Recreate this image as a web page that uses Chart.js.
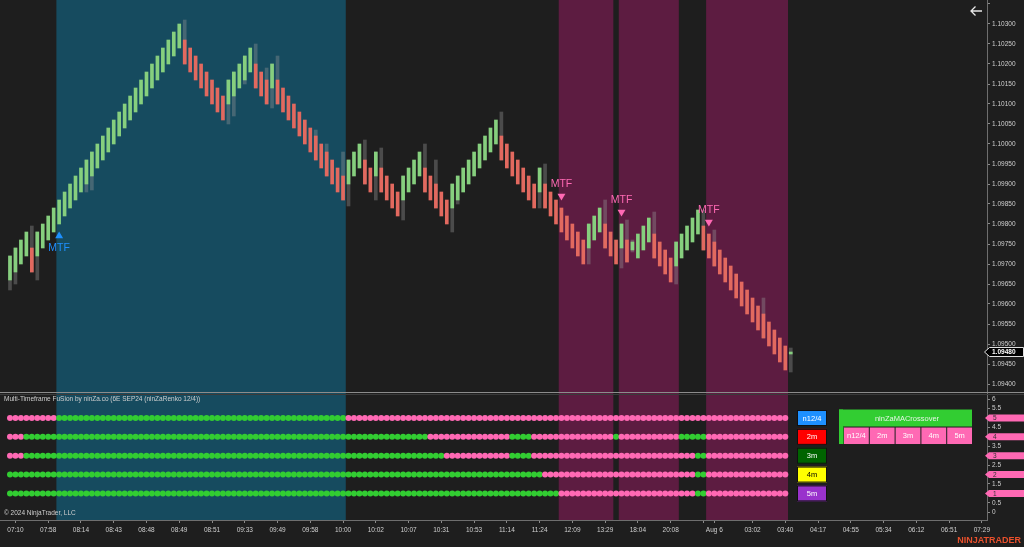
<!DOCTYPE html>
<html>
<head>
<meta charset="utf-8">
<script src="https://cdn.jsdelivr.net/npm/chart.js@4.4.1/dist/chart.umd.min.js"></script>
<style>
  html, body { margin: 0; padding: 0; background: #1e1e1e; overflow: hidden; }
  #wrap { position: relative; width: 1024px; height: 547px; }
</style>
</head>
<body>
<div id="wrap"><canvas id="chart" width="1024" height="547"></canvas></div>
<script>
// ---- data: ninZaRenko 12/4 bars (6E SEP24) ----
var opens = [
  1.0966, 1.0968, 1.0970, 1.0972, 1.0974, 1.0972, 1.0974, 1.0976, 1.0978, 1.0980,
  1.0982, 1.0984, 1.0986, 1.0988, 1.0990, 1.0992, 1.0994, 1.0996, 1.0998, 1.1000,
  1.1002, 1.1004, 1.1006, 1.1008, 1.1010, 1.1012, 1.1014, 1.1016, 1.1018, 1.1020,
  1.1022, 1.1024, 1.1026, 1.1024, 1.1022, 1.1020, 1.1018, 1.1016, 1.1014, 1.1012,
  1.1010, 1.1012, 1.1014, 1.1016, 1.1018, 1.1020, 1.1018, 1.1016, 1.1014, 1.1016,
  1.1014, 1.1012, 1.1010, 1.1008, 1.1006, 1.1004, 1.1002, 1.1000, 1.0998, 1.0996,
  1.0994, 1.0992, 1.0990, 1.0992, 1.0994, 1.0996, 1.0994, 1.0992, 1.0994, 1.0992,
  1.0990, 1.0988, 1.0986, 1.0988, 1.0990, 1.0992, 1.0994, 1.0992, 1.0990, 1.0988,
  1.0986, 1.0984, 1.0986, 1.0988, 1.0990, 1.0992, 1.0994, 1.0996, 1.0998, 1.1000,
  1.1002, 1.1000, 1.0998, 1.0996, 1.0994, 1.0992, 1.0990, 1.0988, 1.0990, 1.0988,
  1.0986, 1.0984, 1.0982, 1.0980, 1.0978, 1.0976, 1.0974, 1.0976, 1.0978, 1.0980,
  1.0978, 1.0976, 1.0974, 1.0976, 1.09735, 1.09715, 1.09735, 1.09755, 1.09775, 1.09755,
  1.09735, 1.09715, 1.09695, 1.09715, 1.09735, 1.09755, 1.09775, 1.09795, 1.09775, 1.09755,
  1.09735, 1.09715, 1.09695, 1.09675, 1.09655, 1.09635, 1.09615, 1.09595, 1.09575, 1.09555,
  1.09535, 1.09515, 1.09495, 1.09475
];
var closes = [
  1.0972, 1.0974, 1.0976, 1.0978, 1.0968, 1.0978, 1.0980, 1.0982, 1.0984, 1.0986,
  1.0988, 1.0990, 1.0992, 1.0994, 1.0996, 1.0998, 1.1000, 1.1002, 1.1004, 1.1006,
  1.1008, 1.1010, 1.1012, 1.1014, 1.1016, 1.1018, 1.1020, 1.1022, 1.1024, 1.1026,
  1.1028, 1.1030, 1.1020, 1.1018, 1.1016, 1.1014, 1.1012, 1.1010, 1.1008, 1.1006,
  1.1016, 1.1018, 1.1020, 1.1022, 1.1024, 1.1014, 1.1012, 1.1010, 1.1020, 1.1010,
  1.1008, 1.1006, 1.1004, 1.1002, 1.1000, 1.0998, 1.0996, 1.0994, 1.0992, 1.0990,
  1.0988, 1.0986, 1.0996, 1.0998, 1.1000, 1.0990, 1.0988, 1.0998, 1.0988, 1.0986,
  1.0984, 1.0982, 1.0992, 1.0994, 1.0996, 1.0998, 1.0988, 1.0986, 1.0984, 1.0982,
  1.0980, 1.0990, 1.0992, 1.0994, 1.0996, 1.0998, 1.1000, 1.1002, 1.1004, 1.1006,
  1.0996, 1.0994, 1.0992, 1.0990, 1.0988, 1.0986, 1.0984, 1.0994, 1.0984, 1.0982,
  1.0980, 1.0978, 1.0976, 1.0974, 1.0972, 1.0970, 1.0980, 1.0982, 1.0984, 1.0974,
  1.0972, 1.0970, 1.0980, 1.09705, 1.09755, 1.09775, 1.09795, 1.09815, 1.09715, 1.09695,
  1.09675, 1.09655, 1.09755, 1.09775, 1.09795, 1.09815, 1.09835, 1.09735, 1.09715, 1.09695,
  1.09675, 1.09655, 1.09635, 1.09615, 1.09595, 1.09575, 1.09555, 1.09535, 1.09515, 1.09495,
  1.09475, 1.09455, 1.09435, 1.09480
];
// bars whose high/low reach past the body
var wickBars  = [0, 1, 4, 5, 14, 15, 32, 40, 41, 43, 45, 47, 48, 49, 56, 58, 61, 62, 65, 67, 68, 72, 76, 78, 81, 82, 90, 97, 98, 106, 109, 112, 113, 114, 118, 122, 127, 129, 138, 143];
var wickLows  = [1.09635, 1.0965, 1.0968, 1.0966, 1.0988, 1.09885, 1.1020, 1.1005, 1.1007, 1.1015, 1.1014, 1.1010, 1.1009, 1.1010, 1.0996, 1.0992, 1.0986, 1.09845, 1.0990, 1.0986, 1.0988, 1.0981, 1.0988, 1.0984, 1.0978, 1.0985, 1.0996, 1.0984, 1.0984, 1.0970, 1.0974, 1.0969, 1.09705, 1.0973, 1.09715, 1.0965, 1.09735, 1.09695, 1.09515, 1.0943];
var wickHighs = [1.0972, 1.0974, 1.09795, 1.0978, 1.0996, 1.0998, 1.1031, 1.1016, 1.1018, 1.1022, 1.1025, 1.1019, 1.1020, 1.1022, 1.10035, 1.1000, 1.0998, 1.0996, 1.1001, 1.0998, 1.0999, 1.0992, 1.1000, 1.0996, 1.0990, 1.0992, 1.1008, 1.0994, 1.0995, 1.0980, 1.0986, 1.0980, 1.0981, 1.0976, 1.0983, 1.09755, 1.09835, 1.09785, 1.09615, 1.0949];
var lastPrice = 1.09480;

// MTF signals
var mtfBars  = [9, 101, 112, 128];
var mtfPrice = [1.0977, 1.0987, 1.0983, 1.09805];
var mtfSide  = [1, -1, -1, -1];

// background zones (bar index bounds)
var zoneFrom  = [8.5, 100.5, 111.5, 127.5];
var zoneTo    = [61.5, 110.5, 122.5, 142.5];
var zoneColor = ['#164b5f', '#5d1c41', '#5d1c41', '#5d1c41'];

// Multi-timeframe rows: [fromBar, toBar, state]
var tfNames  = ['n12/4', '2m', '3m', '4m', '5m'];
var tfColors = ['#1e90ff', '#ff0000', '#006400', '#ffff00', '#9932cc'];
var tfText   = ['#ffffff', '#ffffff', '#ffffff', '#000000', '#ffffff'];
var tfRow    = [5, 4, 3, 2, 1];
var sigN124 = [[0, 8, -1], [9, 61, 1], [62, 142, -1]];
var sig2m = [[0, 2, -1], [3, 76, 1], [77, 91, -1], [92, 95, 1], [96, 110, -1], [111, 111, 1], [112, 122, -1], [123, 127, 1], [128, 142, -1]];
var sig3m = [[0, 2, -1], [3, 79, 1], [80, 91, -1], [92, 95, 1], [96, 125, -1], [126, 127, 1], [128, 142, -1]];
var sig4m = [[0, 97, 1], [98, 125, -1], [126, 127, 1], [128, 142, -1]];
var sig5m = [[0, 100, 1], [101, 125, -1], [126, 127, 1], [128, 142, -1]];
var signals = [sigN124, sig2m, sig3m, sig4m, sig5m];

// axis ticks
var priceTicks = [1.0940, 1.0945, 1.0950, 1.0955, 1.0960, 1.0965, 1.0970, 1.0975, 1.0980, 1.0985,
                  1.0990, 1.0995, 1.1000, 1.1005, 1.1010, 1.1015, 1.1020, 1.1025, 1.1030, 1.1035];
var rowTicks = [0, 0.5, 1, 1.5, 2, 2.5, 3, 3.5, 4, 4.5, 5, 5.5, 6];
var timeTicks = [1, 7, 13, 19, 25, 31, 37, 43, 49, 55, 61, 67, 73, 79, 85, 91, 97, 103, 109, 115, 121,
                 127, 129, 136, 142, 148, 154, 160, 166, 172, 178];
var timeLabels = ['07:10', '07:58', '08:14', '08:43', '08:48', '08:49', '08:51', '09:33', '09:49', '09:58', '10:00',
                  '10:02', '10:07', '10:31', '10:53', '11:14', '11:24', '12:09', '13:29', '18:04', '20:08',
                  '', 'Aug 6', '03:02', '03:40', '04:17', '04:55', '05:34', '06:12', '06:51', '07:29'];

// ---- styling ----
var FONT = '"Liberation Sans", Arial, sans-serif';
var UP = '#86cf7e', DOWN = '#e2695f';
var PINK = '#ff69b4', LIME = '#32cd32';
var AXIS = '#6e6e6e', LABEL = '#cfcfcf';

var bodyData = opens.map(function (o, i) { return { x: i, y: [o, closes[i]] }; });
var bodyColors = opens.map(function (o, i) { return closes[i] >= o ? UP : DOWN; });
var wickData = wickBars.map(function (b, k) { return { x: b, y: [wickLows[k], wickHighs[k]] }; });

var dotSets = signals.map(function (runs, r) {
  var pts = [], cols = [];
  runs.forEach(function (run) {
    for (var i = run[0]; i <= run[1]; i++) {
      pts.push({ x: i, y: tfRow[r] });
      cols.push(run[2] > 0 ? LIME : PINK);
    }
  });
  return {
    type: 'scatter', yAxisID: 'y2', data: pts,
    pointBackgroundColor: cols, pointBorderWidth: 0, pointRadius: 3, order: 2
  };
});

function axisFont(size, bold) { return (bold ? 'bold ' : '') + size + 'px ' + FONT; }

// no edge padding from tick labels: the plot runs right up to the canvas edges
function noPad(s) { s.paddingLeft = 0; s.paddingRight = 0; s.paddingTop = 0; s.paddingBottom = 0; }

// ---- plugins ----
var backdrop = {
  id: 'backdrop',
  beforeDraw: function (chart) {
    var ctx = chart.ctx, xs = chart.scales.x, a = chart.chartArea;
    ctx.save();
    ctx.fillStyle = '#1e1e1e';
    ctx.fillRect(0, 0, chart.width, chart.height);
    for (var k = 0; k < zoneFrom.length; k++) {
      var x1 = xs.getPixelForValue(zoneFrom[k]);
      var x2 = xs.getPixelForValue(zoneTo[k]);
      ctx.fillStyle = zoneColor[k];
      ctx.fillRect(x1, a.top, x2 - x1, a.bottom - a.top);
    }
    ctx.restore();
  }
};

var overlay = {
  id: 'overlay',
  afterDraw: function (chart) {
    var ctx = chart.ctx, xs = chart.scales.x, ys = chart.scales.y, y2 = chart.scales.y2;
    var a = chart.chartArea;
    ctx.save();

    // pane separator
    var sepY = ys.bottom;
    ctx.fillStyle = '#8c8c8c';
    ctx.fillRect(0, sepY, chart.width, 1);
    ctx.fillStyle = '#3a3a3a';
    ctx.fillRect(0, sepY + 2, chart.width, 1);

    // MTF labels
    ctx.font = axisFont(10.5);
    ctx.textAlign = 'center';
    ctx.textBaseline = 'middle';
    for (var k = 0; k < mtfBars.length; k++) {
      var mx = xs.getPixelForValue(mtfBars[k]);
      var my = ys.getPixelForValue(mtfPrice[k]);
      ctx.fillStyle = mtfSide[k] > 0 ? '#1e90ff' : PINK;
      ctx.fillText('MTF', mx, my + (mtfSide[k] > 0 ? 12 : -12));
    }

    // pane titles
    ctx.textAlign = 'left';
    ctx.fillStyle = LABEL;
    ctx.font = axisFont(6.5);
    ctx.fillText('Multi-Timeframe FuSion by ninZa.co (6E SEP24 (ninZaRenko 12/4))', 4, sepY + 7);
    ctx.fillText('\u00a9 2024 NinjaTrader, LLC', 4, a.bottom - 7);

    // timeframe legend boxes
    ctx.textAlign = 'center';
    ctx.font = axisFont(7.5);
    for (var r = 0; r < tfNames.length; r++) {
      var cy = y2.getPixelForValue(tfRow[r]);
      ctx.fillStyle = tfColors[r];
      ctx.fillRect(797, cy - 8, 30, 16);
      ctx.strokeStyle = '#111';
      ctx.lineWidth = 1;
      ctx.strokeRect(797.5, cy - 7.5, 29, 15);
      ctx.fillStyle = tfText[r];
      ctx.fillText(tfNames[r], 812, cy + 0.5);
    }

    // ninZaMACrossover panel
    var top = y2.getPixelForValue(5) - 8.5;
    ctx.fillStyle = LIME;
    ctx.fillRect(839, top, 133, 17);
    ctx.fillRect(839, top, 4, 34.5);
    ctx.fillStyle = '#1f7a1f';
    ctx.fillRect(843, top + 17, 1, 17.5);
    ctx.fillStyle = '#e6f5e6';
    ctx.fillText('ninZaMACrossover', 907, top + 9);
    for (var c = 0; c < tfNames.length; c++) {
      var cx = 844 + c * 25.8;
      ctx.fillStyle = PINK;
      ctx.fillRect(cx, top + 18, 24.8, 16.5);
      ctx.fillStyle = '#ffffff';
      ctx.fillText(tfNames[c], cx + 12.4, top + 26.5);
    }

    // row value flags on the lower axis
    ctx.font = axisFont(6.5);
    ctx.textAlign = 'left';
    for (var v = 1; v <= 5; v++) {
      var fy = y2.getPixelForValue(v);
      ctx.fillStyle = PINK;
      ctx.beginPath();
      ctx.moveTo(985, fy);
      ctx.lineTo(989, fy - 3.5);
      ctx.lineTo(1024, fy - 3.5);
      ctx.lineTo(1024, fy + 3.5);
      ctx.lineTo(989, fy + 3.5);
      ctx.closePath();
      ctx.fill();
      ctx.fillStyle = '#333';
      ctx.fillText(String(v), 993, fy + 0.5);
    }

    // last price flag
    var py = ys.getPixelForValue(lastPrice);
    ctx.fillStyle = '#000';
    ctx.strokeStyle = '#e0e0e0';
    ctx.beginPath();
    ctx.moveTo(984.5, py);
    ctx.lineTo(989.5, py - 4.5);
    ctx.lineTo(1023.5, py - 4.5);
    ctx.lineTo(1023.5, py + 4.5);
    ctx.lineTo(989.5, py + 4.5);
    ctx.closePath();
    ctx.fill();
    ctx.stroke();
    ctx.fillStyle = '#fff';
    ctx.font = axisFont(6.5, true);
    ctx.fillText(lastPrice.toFixed(5), 992, py + 0.5);

    // back arrow
    ctx.strokeStyle = '#e8e8e8';
    ctx.lineWidth = 1.3;
    ctx.beginPath();
    ctx.moveTo(982, 11); ctx.lineTo(971, 11);
    ctx.moveTo(975.5, 6.5); ctx.lineTo(971, 11); ctx.lineTo(975.5, 15.5);
    ctx.stroke();

    // brand
    ctx.fillStyle = '#e9502c';
    ctx.font = axisFont(9, true);
    ctx.textAlign = 'right';
    ctx.fillText('NINJATRADER', 1021, 541);
    ctx.restore();
  }
};

// ---- chart ----
var chart = new Chart(document.getElementById('chart'), {
  type: 'bar',
  data: {
    datasets: [
      {
        type: 'scatter', yAxisID: 'y', order: 0,
        data: mtfBars.map(function (b, k) { return { x: b, y: mtfPrice[k] }; }),
        pointStyle: 'triangle',
        rotation: mtfSide.map(function (s) { return s > 0 ? 0 : 180; }),
        pointRadius: 4.6, pointBorderWidth: 0,
        pointBackgroundColor: mtfSide.map(function (s) { return s > 0 ? '#1e90ff' : PINK; })
      },
      {
        label: 'bodies', yAxisID: 'y', order: 3, data: bodyData,
        backgroundColor: bodyColors, barThickness: 3, grouped: false
      },
      {
        label: 'wicks', yAxisID: 'y', order: 4, data: wickData,
        backgroundColor: 'rgba(150,150,150,0.38)', barThickness: 3, grouped: false
      }
    ].concat(dotSets)
  },
  options: {
    responsive: false,
    animation: false,
    events: [],
    layout: { padding: 0, autoPadding: false },
    plugins: { legend: { display: false }, tooltip: { enabled: false } },
    scales: {
      x: {
        type: 'linear', position: 'bottom', min: -1.83, max: 178.94, offset: false,
        afterBuildTicks: function (s) { s.ticks = timeTicks.map(function (v) { return { value: v }; }); },
        afterFit: function (s) { s.height = 27; noPad(s); },
        ticks: {
          autoSkip: false, maxRotation: 0, color: LABEL, padding: 3,
          font: { family: FONT, size: 6.5 },
          callback: function (v, i) { return timeLabels[i]; }
        },
        grid: { offset: false, drawOnChartArea: false, tickLength: 3, color: '#8a8a8a' },
        border: { color: AXIS }
      },
      y: {
        type: 'linear', position: 'right', stack: 'panes', stackWeight: 392,
        min: 1.0938, max: 1.1036,
        afterBuildTicks: function (s) { s.ticks = priceTicks.map(function (v) { return { value: v }; }); },
        afterFit: function (s) { s.width = 37; noPad(s); },
        ticks: {
          autoSkip: false, color: LABEL, padding: 2,
          font: { family: FONT, size: 6.5 },
          callback: function (v) { return v > 1.1033 ? '' : v.toFixed(5); }
        },
        grid: { drawOnChartArea: false, tickLength: 3, color: '#8a8a8a' },
        border: { color: AXIS }
      },
      y2: {
        type: 'linear', position: 'right', stack: 'panes', stackWeight: 128,
        min: -0.41, max: 6.38,
        afterBuildTicks: function (s) { s.ticks = rowTicks.map(function (v) { return { value: v }; }); },
        afterFit: function (s) { s.width = 37; noPad(s); },
        ticks: {
          autoSkip: false, color: LABEL, padding: 2,
          font: { family: FONT, size: 6.5 },
          callback: function (v) { return String(v); }
        },
        grid: { drawOnChartArea: false, tickLength: 3, color: '#8a8a8a' },
        border: { color: AXIS }
      }
    }
  },
  plugins: [backdrop, overlay]
});
</script>
</body>
</html>
